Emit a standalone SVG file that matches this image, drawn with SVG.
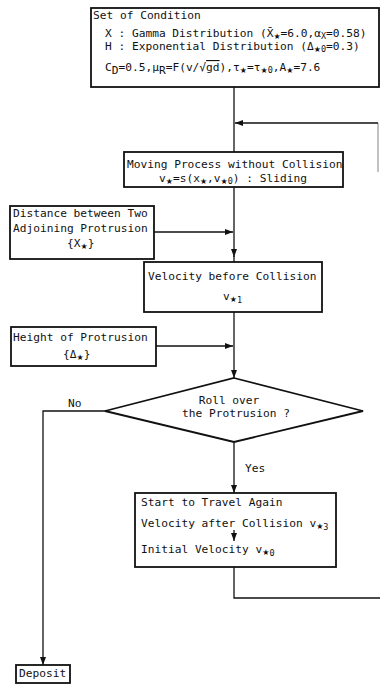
<svg xmlns="http://www.w3.org/2000/svg" width="380" height="685" viewBox="0 0 380 685">
<style>
.t{font-family:"DejaVu Sans Mono","Liberation Mono",monospace;font-size:11.2px;fill:#111}
.s{font-size:8.5px}
.st{font-family:"DejaVu Sans","Noto Sans",sans-serif;font-size:8px}
.box{fill:#fff;stroke:#111;stroke-width:1.8}
.ln{stroke:#111;stroke-width:1.3;fill:none}
.gr{stroke:#999;stroke-width:1.2;fill:none}
.c{text-anchor:middle}
</style>
<defs>
<marker id="ah" viewBox="0 0 8 6" refX="8" refY="3" markerWidth="8" markerHeight="6" markerUnits="userSpaceOnUse" orient="auto">
<path d="M0,0 L8,3 L0,6 z" fill="#111"/>
</marker>
</defs>
<rect width="380" height="685" fill="#fff"/>
<g id="connectors">
<path class="ln" d="M234 87 V152"/>
<path class="gr" d="M378 123 V172"/>
<path class="ln" d="M378 123 H235" marker-end="url(#ah)"/>
<path class="ln" d="M234 187 V257" marker-end="url(#ah)"/>
<path class="ln" d="M234 256 V262"/>
<path class="ln" d="M154 232 H233" marker-end="url(#ah)"/>
<path class="ln" d="M234 312 V378" marker-end="url(#ah)"/>
<path class="ln" d="M156 346 H233" marker-end="url(#ah)"/>
<path class="ln" d="M234 442 V493" marker-end="url(#ah)"/>
<path class="ln" d="M105 411 H43 V665" marker-end="url(#ah)"/>
<path class="ln" d="M234 567 V598 H380"/>
<text class="t" x="68" y="407">No</text>
<text class="t" x="245" y="472">Yes</text>
</g>
<g id="conditions">
<rect class="box" x="91" y="8" width="288" height="79"/>
<text class="t" x="93" y="19">Set of Condition</text>
<text class="t" x="105" y="37">X : Gamma Distribution (X̄<tspan class="st" dy="2">★</tspan><tspan dy="-2">=6.0,α</tspan><tspan class="s" dy="2">X</tspan><tspan dy="-2">=0.58)</tspan></text>
<text class="t" x="105" y="50">H : Exponential Distribution (Δ<tspan class="st" dy="2">★</tspan><tspan class="s">0</tspan><tspan dy="-2">=0.3)</tspan></text>
<text class="t" x="105" y="71">C<tspan dy="3">D</tspan><tspan dy="-3">=0.5,μ</tspan><tspan dy="3">R</tspan><tspan dy="-3">=F(v/√</tspan><tspan text-decoration="overline">gd</tspan>),τ<tspan class="st" dy="2">★</tspan><tspan dy="-2">=τ</tspan><tspan class="st" dy="2">★</tspan><tspan class="s">0</tspan><tspan dy="-2">,A</tspan><tspan class="st" dy="2">★</tspan><tspan dy="-2">=7.6</tspan></text>
</g>
<g id="moving">
<rect class="box" x="124" y="152" width="219" height="35"/>
<text class="t" x="127" y="168">Moving Process without Collision</text>
<text class="t" x="159" y="182">v<tspan class="st" dy="2">★</tspan><tspan dy="-2">=s(x</tspan><tspan class="st" dy="2">★</tspan><tspan dy="-2">,v</tspan><tspan class="st" dy="2">★</tspan><tspan class="s">0</tspan><tspan dy="-2">) : Sliding</tspan></text>
</g>
<g id="distance">
<rect class="box" x="10" y="206" width="144" height="53"/>
<text class="t" x="13" y="217">Distance between Two</text>
<text class="t" x="13" y="232">Adjoining Protrusion</text>
<text class="t" x="67" y="247">{X<tspan class="st" dy="2">★</tspan><tspan dy="-2">}</tspan></text>
</g>
<g id="velocity">
<rect class="box" x="144" y="262" width="178" height="50"/>
<text class="t" x="148" y="280">Velocity before Collision</text>
<text class="t" x="223" y="300">v<tspan class="st" dy="2">★</tspan><tspan class="s" dy="1">1</tspan></text>
</g>
<g id="height">
<rect class="box" x="11" y="327" width="145" height="39"/>
<text class="t" x="13" y="341">Height of Protrusion</text>
<text class="t" x="63" y="358">{Δ<tspan class="st" dy="2">★</tspan><tspan dy="-2">}</tspan></text>
</g>
<g id="decision">
<polygon class="box" points="234,378 363,411 234,442 105,411"/>
<text class="t c" x="229" y="404">Roll over</text>
<text class="t c" x="236" y="417">the Protrusion ?</text>
</g>
<g id="start">
<rect class="box" x="135" y="493" width="201" height="74"/>
<text class="t" x="141" y="506">Start to Travel Again</text>
<text class="t" x="141" y="527">Velocity after Collision v<tspan class="st" dy="2">★</tspan><tspan class="s" dy="1">3</tspan></text>
<path class="ln" d="M234 530 V541" marker-end="url(#ah)"/>
<text class="t" x="141" y="553">Initial Velocity v<tspan class="st" dy="2">★</tspan><tspan class="s" dy="1">0</tspan></text>
</g>
<g id="deposit">
<rect class="box" x="16" y="665" width="54" height="18"/>
<text class="t" x="19" y="677">Deposit</text>
</g>
</svg>
